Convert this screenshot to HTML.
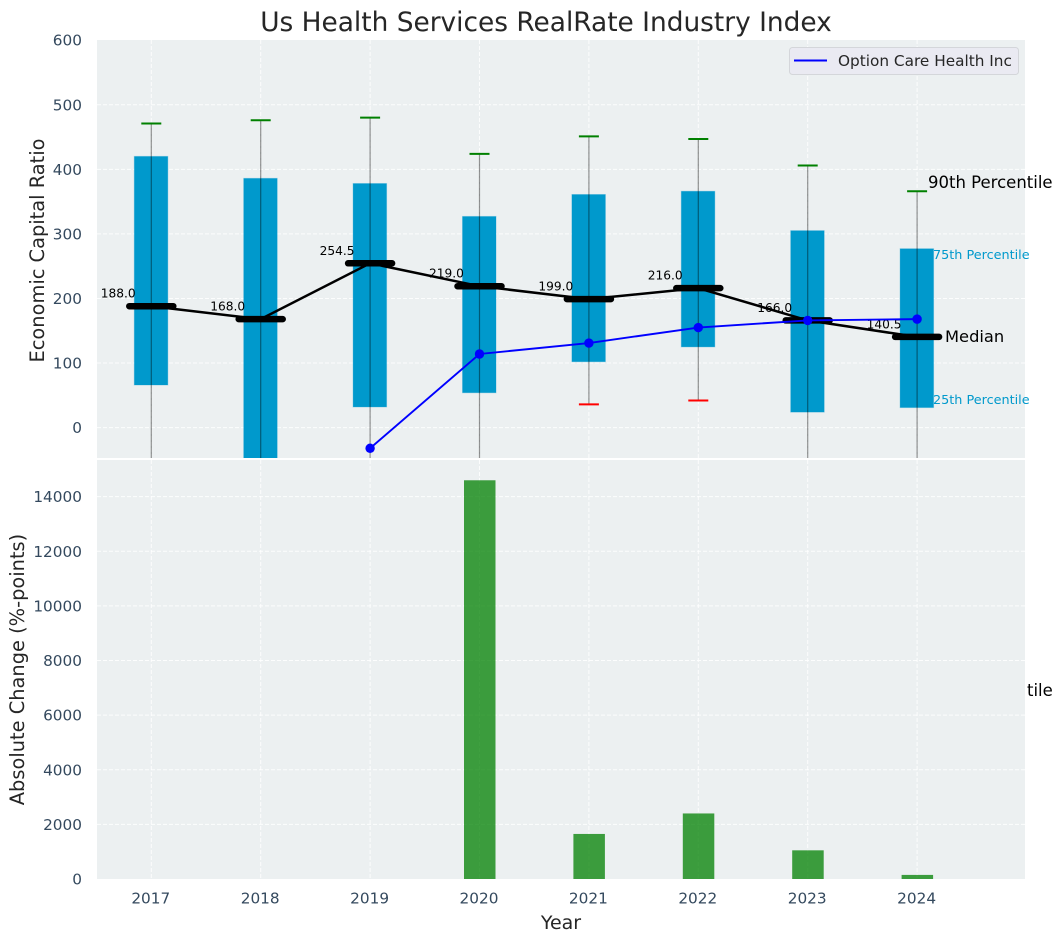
<!DOCTYPE html>
<html>
<head>
<meta charset="utf-8">
<title>Us Health Services RealRate Industry Index</title>
<style>
html,body{margin:0;padding:0;background:#fff;width:1063px;height:942px;overflow:hidden}
svg{display:block;font-family:"DejaVu Sans","Liberation Sans",sans-serif}
</style>
</head>
<body>
<svg id="chart" width="1063" height="942" viewBox="0 0 1063 942" xmlns="http://www.w3.org/2000/svg">
<defs>
<clipPath id="clip-top"><rect x="97" y="40" width="928" height="418"/></clipPath>
</defs>
<text x="546" y="31" font-size="26.4" fill="#262626" text-anchor="middle">Us Health Services RealRate Industry Index</text>
<rect x="97" y="40" width="928" height="418" fill="#ecf0f1"/>
<rect x="97" y="460" width="928" height="419" fill="#ecf0f1"/>
<g id="grid"></g>
<g id="top-marks" clip-path="url(#clip-top)"></g>
<g id="bottom-marks"></g>
<g id="ticks"></g>
<text transform="translate(44,250.5) rotate(-90)" font-size="19.4" fill="#262626" text-anchor="middle">Economic Capital Ratio</text>
<text transform="translate(24,669.5) rotate(-90)" font-size="19.4" fill="#262626" text-anchor="middle">Absolute Change (%-points)</text>
<text x="561" y="929" font-size="19" fill="#262626" text-anchor="middle">Year</text>
<text x="928" y="188" font-size="16.5" fill="#000">90th Percentile</text>
<text x="933" y="259" font-size="12.8" fill="#0099cc">75th Percentile</text>
<text x="945" y="342" font-size="16.3" fill="#000">Median</text>
<text x="933" y="404" font-size="12.8" fill="#0099cc">25th Percentile</text>
<text x="1027" y="696" font-size="16.5" fill="#000">tile</text>
<g>
<rect x="789.5" y="47.5" width="229" height="27" rx="3" fill="#eaeaf2" stroke="#d4d6da" stroke-width="1"/>
<line x1="794" y1="60.5" x2="827" y2="60.5" stroke="#0000ff" stroke-width="2"/>
<text x="838" y="66" font-size="15.3" fill="#262626">Option Care Health Inc</text>
</g>
</svg>
<script>
const years = [2017, 2018, 2019, 2020, 2021, 2022, 2023, 2024];
const p90 = [471, 476, 480, 424, 451, 447, 406, 366];
const p75 = [420, 386, 378, 327, 361, 366, 305, 277];
const medians = [188.0, 168.0, 254.5, 219.0, 199.0, 216.0, 166.0, 140.5];
const p25 = [66, -60, 32, 54, 102, 125, 24, 31];
const p10 = [-90, -110, -80, -70, 36, 42, -85, -75];
const companyYears = [2019, 2020, 2021, 2022, 2023, 2024];
const companyValues = [-32, 114, 131, 155, 166, 168];
const changeYears = [2020, 2021, 2022, 2023, 2024];
const changeValues = [14600, 1650, 2400, 1050, 150];
const topTicks = [0, 100, 200, 300, 400, 500, 600];
const bottomTicks = [0, 2000, 4000, 6000, 8000, 10000, 12000, 14000];

const NS = 'http://www.w3.org/2000/svg';
const xPos = v => 151.3 + (v - 2017) * 109.4;
const yTop = v => 427.6 - v * 0.6457;
const yBottom = v => 879 - v * 0.02731;

function add(parent, tag, attrs, text) {
  const el = document.createElementNS(NS, tag);
  for (const k in attrs) el.setAttribute(k, attrs[k]);
  if (text !== undefined) el.textContent = text;
  parent.appendChild(el);
  return el;
}

const gridG = document.getElementById('grid');
const tickG = document.getElementById('ticks');
const topG = document.getElementById('top-marks');
const bottomG = document.getElementById('bottom-marks');
const gridStyle = {stroke: '#ffffff', 'stroke-width': 1, 'stroke-dasharray': '4 2', 'stroke-opacity': 0.85};

years.forEach(y => {
  const gx = add(gridG, 'line', {x1: xPos(y), x2: xPos(y), y1: 40, y2: 458, ...gridStyle});
  
  
  const gx2 = add(gridG, 'line', {x1: xPos(y), x2: xPos(y), y1: 460, y2: 879, ...gridStyle});
  
  
  const lbl = add(tickG, 'text', {x: xPos(y) - 0.5, y: 903.5, 'font-size': 15.3, fill: '#34495e', 'text-anchor': 'middle'}, y);
  
  
});

topTicks.forEach(v => {
  if (v < 600) {
    const g = add(gridG, 'line', {x1: 97, x2: 1025, y1: yTop(v), y2: yTop(v), ...gridStyle});
    
    
  }
  const t = add(tickG, 'text', {x: 82, y: yTop(v) + 5.5, 'font-size': 15.3, fill: '#34495e', 'text-anchor': 'end'}, v);
  
  
});

bottomTicks.forEach(v => {
  if (v > 0) {
    const g = add(gridG, 'line', {x1: 97, x2: 1025, y1: yBottom(v), y2: yBottom(v), ...gridStyle});
    
    
  }
  const t = add(tickG, 'text', {x: 82, y: yBottom(v) + 5.5, 'font-size': 15.3, fill: '#34495e', 'text-anchor': 'end'}, v);
  
  
});

years.forEach((y, i) => {
  const cx = xPos(y);
  const box = add(topG, 'rect', {x: cx - 17, y: yTop(p75[i]), width: 33.5, height: yTop(p25[i]) - yTop(p75[i]), fill: '#0099cc', stroke: '#0099cc', 'stroke-opacity': 0.3, 'stroke-width': 1});
  
  
  const w = add(topG, 'line', {x1: cx, x2: cx, y1: yTop(p90[i]), y2: yTop(p10[i]), stroke: '#000', 'stroke-opacity': 0.42, 'stroke-width': 1.2});
  
  
  const capHi = add(topG, 'line', {x1: cx - 10, x2: cx + 10, y1: yTop(p90[i]), y2: yTop(p90[i]), stroke: '#008000', 'stroke-width': 2});
  
  
  const capLo = add(topG, 'line', {x1: cx - 10, x2: cx + 10, y1: yTop(p10[i]), y2: yTop(p10[i]), stroke: '#ff0000', 'stroke-width': 2});
  
  
});

const medLine = add(topG, 'polyline', {points: years.map((y, i) => xPos(y) + ',' + yTop(medians[i])).join(' '), fill: 'none', stroke: '#000', 'stroke-width': 2.5});



years.forEach((y, i) => {
  const cx = xPos(y);
  const m = add(topG, 'line', {x1: cx - 22, x2: cx + 22, y1: yTop(medians[i]), y2: yTop(medians[i]), stroke: '#000', 'stroke-width': 6.5, 'stroke-linecap': 'round'});
  
  
  const t = add(topG, 'text', {x: cx - 50.5, y: yTop(medians[i]) - 8.5, 'font-size': 12.2, fill: '#000'}, medians[i].toFixed(1));
  
  
});

const compLine = add(topG, 'polyline', {points: companyYears.map((y, i) => xPos(y) + ',' + yTop(companyValues[i])).join(' '), fill: 'none', stroke: '#0000ff', 'stroke-width': 1.9});



companyYears.forEach((y, i) => {
  const c = add(topG, 'circle', {cx: xPos(y), cy: yTop(companyValues[i]), r: 4.7, fill: '#0000ff'});
  
  
});

changeYears.forEach((y, i) => {
  const b = add(bottomG, 'rect', {x: xPos(y) - 15.5, y: yBottom(changeValues[i]), width: 31.5, height: yBottom(0) - yBottom(changeValues[i]), fill: '#008000', 'fill-opacity': 0.75});
  
  
});
</script>
</body>
</html>
